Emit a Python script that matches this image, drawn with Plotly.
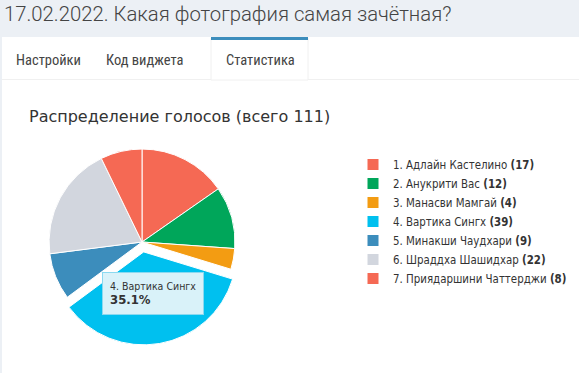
import plotly.graph_objects as go

page_title = "17.02.2022. Какая фотография самая зачётная?"
tabs = ["Настройки", "Код виджета", "Статистика"]
chart_title = "Распределение голосов (всего 111)"
names = ["1. Адлайн Кастелино", "2. Анукрити Вас", "3. Манасви Мамгай",
         "4. Вартика Сингх", "5. Минакши Чаудхари", "6. Шраддха Шашидхар",
         "7. Приядаршини Чаттерджи"]
votes = [17, 12, 4, 39, 9, 22, 8]
colors = ["#f56954", "#00a65a", "#f39c12", "#00c0ef", "#3c8dbc", "#d2d6de", "#f56954"]
pulls = [0, 0, 0, 0.108, 0, 0, 0]
highlight = 3

W, H = 579, 373
def px(x):
    return x / W
def py(y):
    return 1 - y / H

labels = [f"{n} <b>({v})</b>" for n, v in zip(names, votes)]
total = sum(votes)

fig = go.Figure()
fig.add_trace(go.Pie(
    labels=labels, values=votes, sort=False, direction="clockwise", rotation=0,
    pull=pulls, marker=dict(colors=colors, line=dict(color="white", width=1)),
    textinfo="none", hoverinfo="none",
    domain=dict(x=[px(39), px(245)], y=[py(345), py(139)]),
))

shapes = [
    dict(type="rect", xref="paper", yref="paper", x0=0, x1=1, y0=py(37), y1=1,
         fillcolor="#ecf0f5", line=dict(width=0), layer="below"),
    dict(type="rect", xref="paper", yref="paper", x0=0, x1=px(2), y0=0, y1=py(37),
         fillcolor="#ecf0f5", line=dict(width=0), layer="below"),
    dict(type="line", xref="paper", yref="paper", x0=px(2), x1=1, y0=py(79.5), y1=py(79.5),
         line=dict(color="#f0f0f0", width=1)),
    dict(type="rect", xref="paper", yref="paper", x0=px(211), x1=px(308), y0=py(80), y1=py(38),
         fillcolor="white", line=dict(color="#f0f0f0", width=1)),
    dict(type="line", xref="paper", yref="paper", x0=px(211), x1=px(308), y0=py(38.5), y1=py(38.5),
         line=dict(color="#3c8dbc", width=3)),
]

tabfont = dict(family="Liberation Sans Narrow, Roboto Condensed, Liberation Sans", size=14.5, color="#444444")
ann = [
    dict(text=page_title, x=px(2), y=py(14), xref="paper", yref="paper", xanchor="left",
         yanchor="middle", showarrow=False,
         font=dict(family="Roboto", size=20.3, color="#444444", weight=300)),
    dict(text=tabs[0], x=px(14), y=py(60), xref="paper", yref="paper", xanchor="left",
         yanchor="middle", showarrow=False, font=tabfont),
    dict(text=tabs[1], x=px(104), y=py(60), xref="paper", yref="paper", xanchor="left",
         yanchor="middle", showarrow=False, font=tabfont),
    dict(text=tabs[2], x=px(224), y=py(60), xref="paper", yref="paper", xanchor="left",
         yanchor="middle", showarrow=False, font=tabfont),
    dict(text=chart_title, x=px(27), y=py(116), xref="paper", yref="paper", xanchor="left",
         yanchor="middle", showarrow=False,
         font=dict(family="DejaVu Sans", size=16, color="#333333")),
    dict(text=f"{names[highlight]}<br><span style='font-size:13px'><b>{votes[highlight] / total * 100:.1f}%</b></span>",
         x=px(102), y=py(272), xref="paper", yref="paper", xanchor="left", yanchor="top",
         showarrow=False, align="left", bgcolor="#d9f2f9", bordercolor="#8ad9f0",
         borderwidth=1, borderpad=7,
         font=dict(family="DejaVu Sans Condensed, DejaVu Sans", size=10.5, color="#333333")),
]

fig.update_layout(
    width=W, height=H, margin=dict(l=0, r=0, t=0, b=0),
    paper_bgcolor="white", plot_bgcolor="white",
    shapes=shapes, annotations=ann,
    showlegend=True,
    legend=dict(x=px(353), y=py(150), xanchor="left", yanchor="top",
                font=dict(family="DejaVu Sans Condensed, DejaVu Sans", size=11.4, color="#333333"),
                bgcolor="rgba(0,0,0,0)"),
)

fig.write_html("out.html", config={"displayModeBar": False},
               post_script="document.body.style.margin='0';")
